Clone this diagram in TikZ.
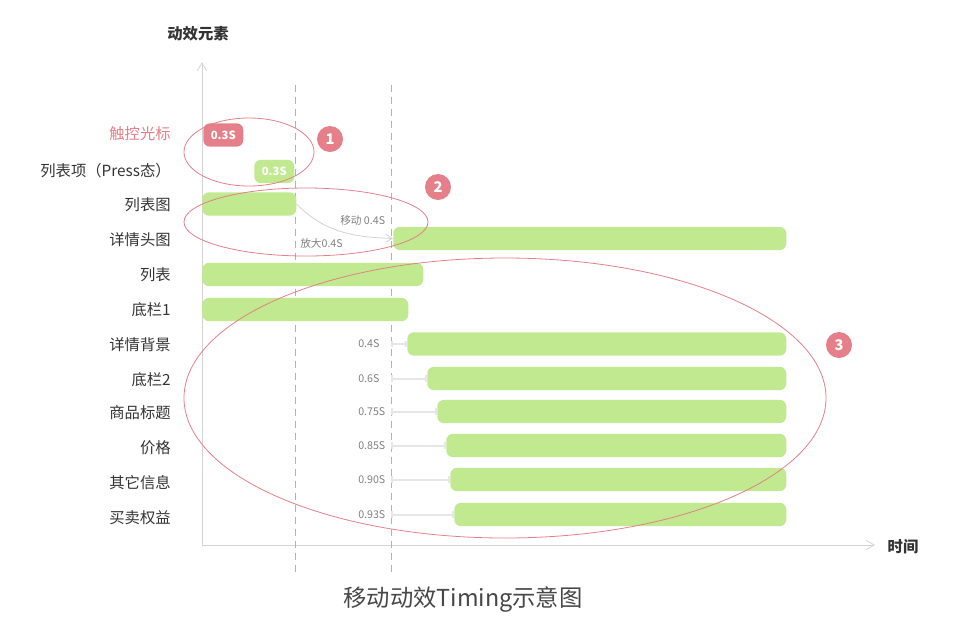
\documentclass[tikz,border=0pt]{standalone}
\usepackage{fontspec}
\setmainfont{Noto Sans CJK SC}
\usepackage{tikz}
\usetikzlibrary{arrows.meta,positioning,shapes.geometric}

\definecolor{hlred}{HTML}{E57F8A}
\definecolor{bargreen}{HTML}{C1E98F}
\definecolor{txtgray}{HTML}{333333}
\definecolor{axisgray}{HTML}{D4D4D4}
\definecolor{tickgray}{HTML}{E6E6E6}

\begin{document}
\begin{tikzpicture}[
    x=0.75pt, y=-0.75pt,
    font=\fontsize{11.5pt}{13pt}\selectfont,
    rowlabel/.style={anchor=east, text=txtgray, inner sep=0pt},
    bar/.style={fill=bargreen, rounded corners=5pt, minimum height=17.5pt, inner sep=0pt, anchor=west},
    badge/.style={circle, fill=hlred, text=white, minimum size=19.5pt, inner sep=0pt, font=\fontsize{11pt}{12pt}\selectfont\bfseries},
    grp/.style={ellipse, draw=hlred, line width=0.6pt, inner sep=0pt},
    timing/.style={anchor=west, text=gray, inner sep=0pt, font=\fontsize{8pt}{9pt}\selectfont},
    delay/.style={draw=tickgray, line width=1.5pt, {Bar[width=5pt]}-{Bar[width=5pt]}},
    guide/.style={draw=gray!60, line width=0.5pt, dash pattern=on 5pt off 4pt}
]
\useasboundingbox (0,0) rectangle (953,633);

% axes
\coordinate (o) at (202,545);
\coordinate (ytop) at (202,62);
\coordinate (xend) at (875,545);
\draw[axisgray, line width=0.6pt, -{Straight Barb[length=6pt, width=7pt]}] (o) -- (ytop);
\draw[axisgray, line width=0.6pt, -{Straight Barb[length=6pt, width=7pt]}] (o) -- (xend);
\node[text=txtgray, font=\fontsize{11.5pt}{13pt}\selectfont\bfseries] (yname) at (198,34) {动效元素};
\node[text=txtgray, font=\fontsize{11.5pt}{13pt}\selectfont\bfseries] (xname) at (903,547) {时间};

% guides
\coordinate (d1t) at (295,85);
\coordinate (d1b) at (295,575);
\coordinate (d2t) at (391,85);
\coordinate (d2b) at (391,575);
\draw[guide] (d1t) -- (d1b);
\draw[guide] (d2t) -- (d2b);

% row labels
\node[rowlabel, text=hlred] (r1) at (171,134) {触控光标};
\node[rowlabel] (r2) at (171,171) {列表项（Press态）};
\node[rowlabel] (r3) at (171,205) {列表图};
\node[rowlabel] (r4) at (171,240) {详情头图};
\node[rowlabel] (r5) at (171,275) {列表};
\node[rowlabel] (r6) at (171,310) {底栏1};
\node[rowlabel] (r7) at (171,345) {详情背景};
\node[rowlabel] (r8) at (171,380) {底栏2};
\node[rowlabel] (r9) at (171,413) {商品标题};
\node[rowlabel] (r10) at (171,448) {价格};
\node[rowlabel] (r11) at (171,483) {其它信息};
\node[rowlabel] (r12) at (171,518) {买卖权益};

% bars
\node[bar, fill=hlred, minimum width=30pt, text=white, font=\fontsize{8.5pt}{9pt}\selectfont\bfseries] (b1) at (203,135) {0.3S};
\node[bar, minimum width=30pt, text=white, font=\fontsize{8.5pt}{9pt}\selectfont\bfseries] (b2) at (254,171.5) {0.3S};
\node[bar, minimum width=70.5pt] (b3) at (202,204) {};
\node[bar, minimum width=294.75pt] (b4) at (393,238.5) {};
\node[bar, minimum width=165.75pt] (b5) at (202,274.5) {};
\node[bar, minimum width=154.5pt] (b6) at (202,309.5) {};
\node[bar, minimum width=284.25pt] (b7) at (407,344) {};
\node[bar, minimum width=269.25pt] (b8) at (427,378.5) {};
\node[bar, minimum width=261.75pt] (b9) at (437,411.5) {};
\node[bar, minimum width=255pt] (b10) at (446,445.5) {};
\node[bar, minimum width=252pt] (b11) at (450,479.5) {};
\node[bar, minimum width=249pt] (b12) at (454,514.5) {};

% move / scale
\draw[gray!35, line width=0.6pt, -{Straight Barb[length=5pt, width=6pt]}] (b3.east) to[out=-45, in=178] (b4.west);
\node[timing] (mv) at (340,220) {移动 0.4S};
\node[timing] (zm) at (300,243) {放大0.4S};

% delays
\foreach \b/\yy/\t in {b7/344/0.4S, b8/378.5/0.6S, b9/411.5/0.75S, b10/445.5/0.85S, b11/479.5/0.90S, b12/514.5/0.93S}{
    \coordinate (s\b) at (391,\yy);
    \draw[delay] (s\b) -- (\b.west);
    \node[timing] (t\b) at (358,\yy) {\t};
}

% groups
\node[grp, minimum width=97.5pt, minimum height=51pt] (g1) at (249,152) {};
\node[grp, minimum width=183pt, minimum height=51pt] (g2) at (306,222) {};
\node[grp, minimum width=481.5pt, minimum height=210pt] (g3) at (505,398) {};
\node[badge] (n1) at (330,139) {1};
\node[badge] (n2) at (438,187) {2};
\node[badge] (n3) at (839,345) {3};

% caption
\node[text=txtgray!90, font=\fontsize{17.5pt}{19pt}\selectfont] (cap) at (463,599) {移动动效Timing示意图};
\end{tikzpicture}
\end{document}
